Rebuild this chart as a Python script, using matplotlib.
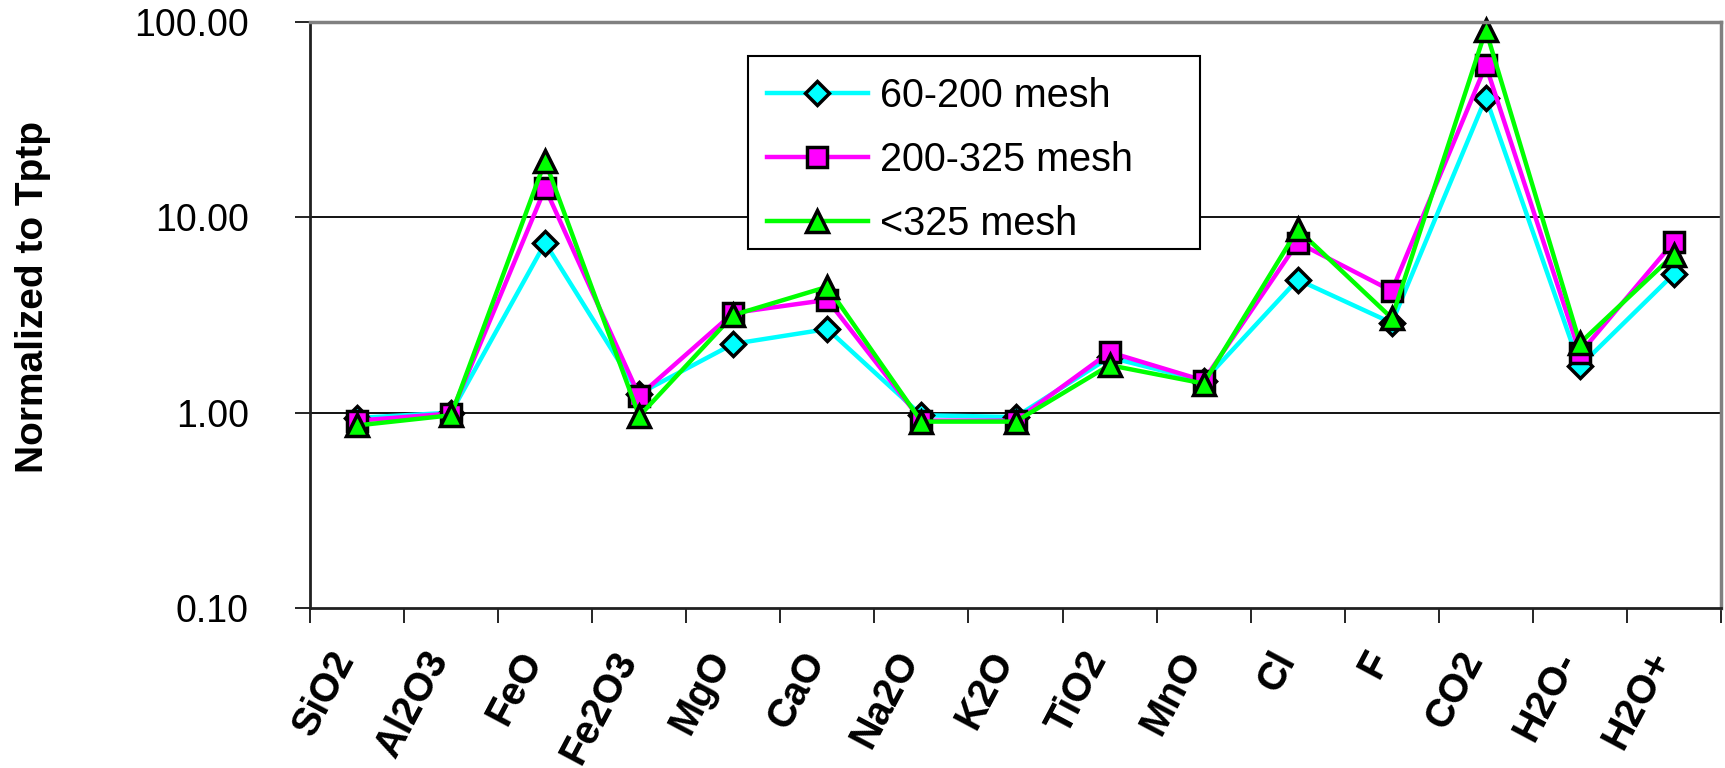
import matplotlib
matplotlib.use('Agg')
import matplotlib.pyplot as plt
from matplotlib.patches import Rectangle
from matplotlib.ticker import FixedLocator, FuncFormatter, NullLocator
from matplotlib.transforms import ScaledTranslation

plt.rcParams['font.family'] = ['Liberation Sans', 'DejaVu Sans']

# Data (normalized to Tptp)
oxides = ['SiO2', 'Al2O3', 'FeO', 'Fe2O3', 'MgO', 'CaO', 'Na2O', 'K2O',
          'TiO2', 'MnO', 'Cl', 'F', 'CO2', 'H2O-', 'H2O+']
mesh_60_200 = [0.94, 1.00, 7.4, 1.25, 2.25, 2.68, 0.97, 0.95, 1.92, 1.45,
               4.8, 2.88, 41.0, 1.73, 5.14]
mesh_200_325 = [0.91, 0.99, 14.1, 1.22, 3.24, 3.78, 0.91, 0.91, 2.04, 1.46,
                7.43, 4.2, 60.0, 2.01, 7.5]
mesh_lt_325 = [0.86, 0.97, 19.4, 0.96, 3.16, 4.41, 0.90, 0.90, 1.75, 1.41,
               8.67, 3.05, 91.0, 2.27, 6.44]
series_names = ['60-200 mesh', '200-325 mesh', '<325 mesh']
y_ticks = [0.1, 1, 10, 100]

W, H = 1725, 768
fig = plt.figure(figsize=(W / 100, H / 100), dpi=100)
ax = fig.add_axes([310 / W, (H - 608) / H, 1411 / W, 586 / H])

x = list(range(len(oxides)))
styles = [
    ('#00FFFF', 'D', 12),
    ('#FF00FF', 's', 14),
    ('#00FF00', '^', 15.5),
]
for vals, name, (col, mk, ms) in zip([mesh_60_200, mesh_200_325, mesh_lt_325],
                                     series_names, styles):
    ax.plot(x, vals, color=col, lw=3.2, marker=mk, markersize=ms,
            markerfacecolor=col, markeredgecolor='black', markeredgewidth=2.5,
            label=name, clip_on=False)

ax.set_yscale('log')
ax.set_ylim(0.1, 100)
ax.set_xlim(-0.5, len(oxides) - 0.5)

# y axis
ax.yaxis.set_major_locator(FixedLocator(y_ticks))
ax.yaxis.set_minor_locator(NullLocator())
ax.yaxis.set_major_formatter(FuncFormatter(lambda v, p: '%.2f' % v))
ax.tick_params(axis='y', which='major', direction='out', length=11, width=1.2,
               color='black', labelsize=27, pad=33)
for g in [1, 10]:
    ax.axhline(g, color='black', lw=1.3, zorder=0)

# x axis: labels at category centers, tick marks at boundaries
ax.set_xticks(x)
ax.set_xticklabels(oxides, rotation=62, ha='right', va='center',
                   rotation_mode='anchor', fontsize=28.5, fontweight='bold')
ax.set_xticks([i - 0.5 for i in range(len(oxides) + 1)], minor=True)
ax.tick_params(axis='x', which='major', length=0, pad=33)
ax.tick_params(axis='x', which='minor', direction='out', length=11, width=1.2,
               color='black')
shift = ScaledTranslation(-12 / 100, 0, fig.dpi_scale_trans)
for lbl in ax.get_xticklabels():
    lbl.set_transform(lbl.get_transform() + shift)

# frame
for side in ['top', 'right']:
    ax.spines[side].set_color('#808080')
    ax.spines[side].set_linewidth(2.5)
for side in ['left', 'bottom']:
    ax.spines[side].set_color('#202020')
    ax.spines[side].set_linewidth(2)

fig.text(33 / W, 1 - 297 / H, 'Normalized to Tptp', rotation=90,
         ha='center', va='center', fontsize=28, fontweight='bold')

# legend box is drawn separately so it can be wider than its contents
ax.add_patch(Rectangle((748 / W, 1 - 249 / H), 452 / W, 193 / H,
                       transform=fig.transFigure, facecolor='white',
                       edgecolor='black', lw=1.5, zorder=4, clip_on=False))
leg = ax.legend(loc='upper left', bbox_to_anchor=(745 / W, 1 - 55 / H),
                bbox_transform=fig.transFigure, borderaxespad=0,
                fontsize=28.5, frameon=False,
                handlelength=2.55, handletextpad=0.3, borderpad=0.55,
                labelspacing=0.66)
leg.set_zorder(5)

fig.savefig('out.png', dpi=100, facecolor='white')
